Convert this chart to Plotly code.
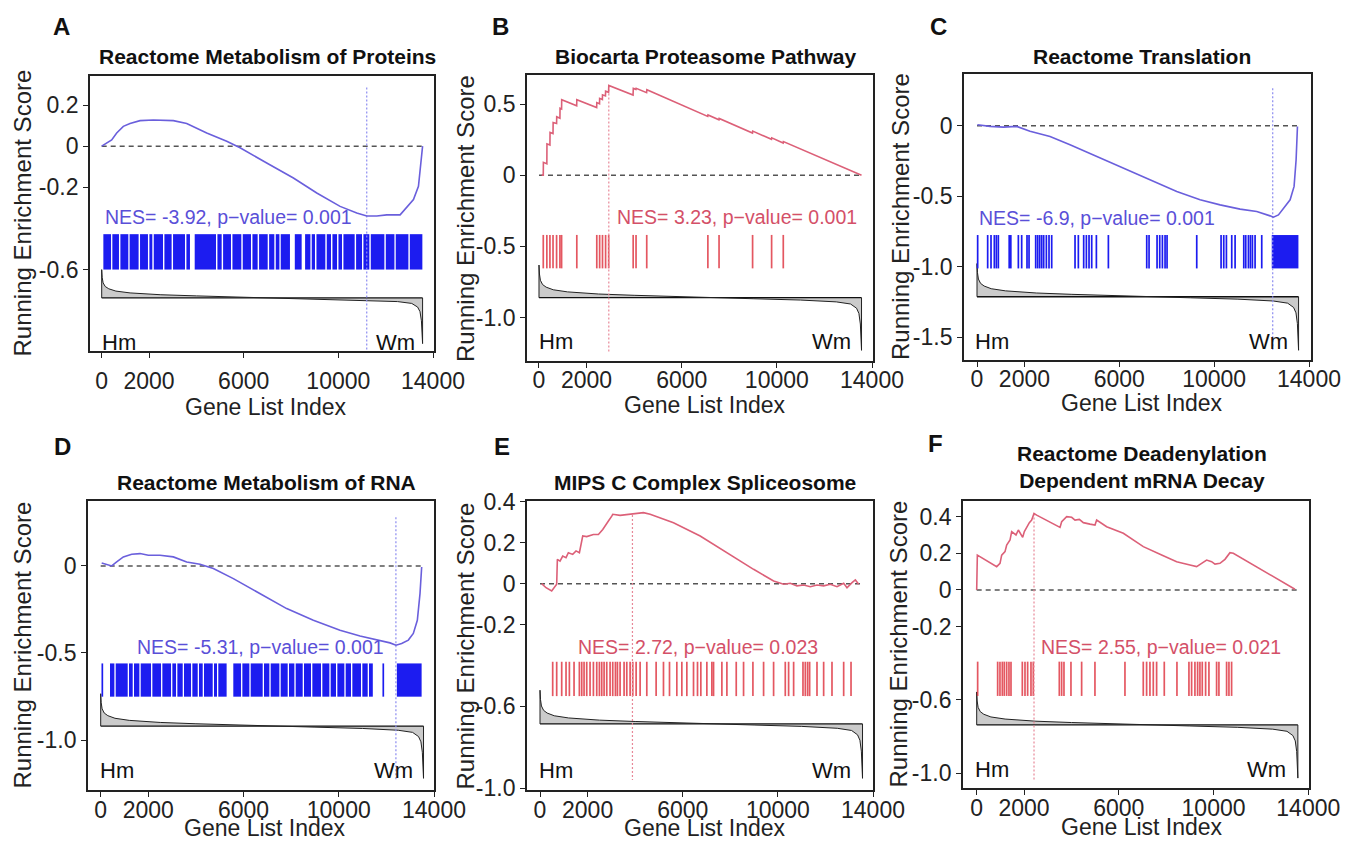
import plotly.graph_objects as go

# page body has an 8px margin; size the figure so the page fits the 1361x850 window
OFF = 8
W, H = 1345, 834
FONT = "Liberation Sans, Arial, Helvetica, sans-serif"

# ---------------- data ----------------
LETTERS = ["A", "B", "C", "D", "E", "F"]
TITLES = ["Reactome Metabolism of Proteins", "Biocarta Proteasome Pathway",
          "Reactome Translation", "Reactome Metabolism of RNA",
          "MIPS C Complex Spliceosome",
          "Reactome Deadenylation<br>Dependent mRNA Decay"]
NES = ["-3.92", "3.23", "-6.9", "-5.31", "2.72", "2.55"]
PVALUE = ["0.001", "0.001", "0.001", "0.001", "0.023", "0.021"]
X_TICKS = [0, 2000, 6000, 10000, 14000]
Y_TICKS = [[0.2, 0, -0.2, -0.6, -1.0], [0.5, 0, -0.5, -1.0], [0, -0.5, -1.0, -1.5],
           [0, -0.5, -1.0], [0.4, 0.2, 0, -0.2, -0.6, -1.0], [0.4, 0.2, 0, -0.2, -0.6, -1.0]]
N_GENES = 13560

# peak (leading edge) position and dotted line extent
PEAK_IDX = [11200, 2935, 12470, 12400, 3886, 2420]
PEAK_TOP = [0.285, 0.63, 0.265, 0.28, 0.335, 0.417]
PEAK_BOTTOM = [-1.0, -1.25, -1.59, -1.23, -0.96, -1.035]

# ranked list metric (shared shape), scaled per panel
METRIC_IDX = [0, 0, 20, 60, 150, 300, 600, 1200, 2500, 4000, 6000, 7000, 9000, 11000,
              12500, 13100, 13350, 13450, 13510, 13560, 13560]
METRIC_VAL = [0.0, 0.62, 0.45, 0.33, 0.25, 0.2, 0.15, 0.11, 0.07, 0.045, 0.015, 0.0,
              -0.02, -0.045, -0.08, -0.12, -0.2, -0.3, -0.5, -1.0, 0.0]
METRIC_BASE = [-0.738, -0.861, -1.214, -0.92, -0.686, -0.736]
METRIC_SCALE = [0.222, 0.37, 0.38, 0.30, 0.266, 0.29]

# rug extents (in score units)
RUG_TOP = [-0.428, -0.42, -0.776, -0.56, -0.382, -0.391]
RUG_BOTTOM = [-0.60, -0.655, -1.013, -0.751, -0.55, -0.578]

# running enrichment score curves
A_IDX = [0, 211, 422, 634, 915, 1197, 1620, 2183, 3029, 3592, 4438, 5283, 5847, 6974, 8101,
         9088, 10074, 10778, 11201, 11624, 12046, 12610, 12821, 13174, 13385, 13484, 13560]
A_ES = [0, 0.016, 0.03, 0.064, 0.096, 0.11, 0.124, 0.127, 0.124, 0.11, 0.064, 0.024, -0.008,
        -0.082, -0.155, -0.228, -0.293, -0.325, -0.34, -0.34, -0.334, -0.334, -0.307, -0.26,
        -0.195, -0.098, 0]
B_IDX = [111, 180, 185, 330, 335, 460, 465, 590, 595, 740, 745, 880, 885, 950, 955, 1585, 1590,
         2425, 2430, 2545, 2550, 2665, 2670, 2795, 2800, 2925, 2935, 3955, 3965, 4075, 4085,
         4525, 4535, 7095, 7105, 7565, 7575, 8975, 8985, 9775, 9785, 10265, 10275, 13560]
B_ES = [0, 0, 0.09, 0.08, 0.22, 0.212, 0.30, 0.292, 0.37, 0.363, 0.41, 0.40, 0.47, 0.465, 0.53,
        0.488, 0.53, 0.475, 0.51, 0.502, 0.54, 0.532, 0.565, 0.557, 0.59, 0.582, 0.63, 0.563,
        0.61, 0.603, 0.61, 0.58, 0.60, 0.413, 0.423, 0.389, 0.399, 0.296, 0.31, 0.252, 0.262,
        0.226, 0.236, 0.0]
C_IDX = [15, 549, 1111, 1674, 2236, 3080, 3923, 5048, 6173, 7298, 8423, 9407, 10251, 11094,
         11797, 12360, 12500, 12711, 12922, 13203, 13371, 13456, 13513]
C_ES = [0.007, -0.005, -0.01, -0.005, -0.04, -0.076, -0.135, -0.218, -0.30, -0.384, -0.467,
        -0.526, -0.562, -0.592, -0.609, -0.64, -0.649, -0.633, -0.585, -0.526, -0.431, -0.242,
        -0.005]
D_IDX = [42, 252, 462, 672, 952, 1302, 1652, 2002, 2492, 3052, 3612, 4172, 4732, 5572, 6692,
         7812, 8932, 10052, 10892, 11592, 12152, 12404, 12642, 12922, 13132, 13300, 13412, 13482]
D_ES = [0.017, 0.01, 0, 0.023, 0.052, 0.067, 0.071, 0.061, 0.061, 0.052, 0.023, 0.01, -0.015,
        -0.073, -0.159, -0.245, -0.312, -0.369, -0.403, -0.426, -0.442, -0.455, -0.446, -0.426,
        -0.388, -0.312, -0.159, -0.006]
E_IDX = [70, 253, 491, 631, 701, 730, 842, 954, 1094, 1192, 1375, 1515, 1656, 1796, 1964, 2245,
         2455, 2638, 2806, 2876, 3016, 3059, 3367, 3858, 4069, 4349, 4630, 5612, 6734, 7857,
         8979, 9821, 10242, 10523, 10803, 11084, 11365, 11645, 11926, 12206, 12487, 12767,
         12907, 13118, 13258, 13399]
E_ES = [0, -0.02, -0.036, -0.011, -0.003, 0.119, 0.11, 0.135, 0.127, 0.151, 0.143, 0.16, 0.151,
        0.233, 0.23, 0.24, 0.24, 0.265, 0.29, 0.306, 0.33, 0.339, 0.334, 0.339, 0.344, 0.347,
        0.339, 0.298, 0.233, 0.151, 0.07, 0.013, -0.003, 0.002, -0.011, -0.007, -0.015, -0.007,
        -0.011, -0.003, -0.015, 0.002, -0.02, 0.005, 0.018, -0.003]
F_IDX = [0, 28, 844, 985, 1055, 1196, 1266, 1407, 1477, 1660, 1759, 1942, 2012, 2110, 2223,
         2321, 2420, 2533, 3518, 3588, 3686, 3799, 4010, 4151, 4334, 4503, 4784, 4995, 5065,
         5487, 6191, 7035, 7809, 8442, 9004, 9286, 9497, 9708, 9919, 10060, 10271, 10482, 10693,
         10834, 13437]
F_ES = [0, 0.19, 0.127, 0.145, 0.19, 0.209, 0.245, 0.272, 0.318, 0.30, 0.327, 0.287, 0.318,
        0.345, 0.367, 0.381, 0.417, 0.408, 0.341, 0.372, 0.385, 0.40, 0.396, 0.381, 0.385, 0.367,
        0.359, 0.354, 0.381, 0.345, 0.309, 0.236, 0.19, 0.154, 0.136, 0.127, 0.145, 0.163, 0.154,
        0.141, 0.145, 0.167, 0.203, 0.20, 0.004]

# gene-set hits: dense runs (start, end) and single hits
A_RUN_START = [70, 450, 790, 1180, 1620, 2015, 2200, 2650, 3015, 3580, 3930, 4890, 5130, 5525,
               5960, 6370, 6650, 7075, 7355, 7565, 8160, 8595, 8875, 9075, 9510, 9750, 10005,
               10215, 10750, 11060, 11370, 12005, 12425, 13020]
A_RUN_END = [395, 730, 1125, 1560, 1955, 2140, 2590, 2955, 3520, 3730, 4830, 5070, 5465, 5900,
             6310, 6590, 7015, 7295, 7510, 7955, 8450, 8820, 9015, 9450, 9690, 9945, 10155,
             10690, 11000, 11310, 11945, 12370, 12960, 13550]
A_HITS = []
B_RUN_START, B_RUN_END = [], []
B_HITS = [180, 330, 460, 590, 740, 880, 950, 1590, 2430, 2550, 2670, 2800, 2930, 3960, 4080,
          4530, 7100, 7570, 8980, 9780, 10270]
C_RUN_START = [1322, 12429]
C_RUN_END = [1462, 13554]
C_HITS = [28, 450, 591, 731, 816, 900, 1744, 1884, 2109, 2194, 2475, 2559, 2643, 2728, 2812,
          2925, 3037, 3150, 4134, 4274, 4499, 4612, 4724, 4837, 5034, 5540, 7157, 7255, 7593,
          7705, 7818, 7930, 8014, 9266, 10292, 10405, 10517, 10742, 10883, 11249, 11333, 11445,
          11530, 11614, 11726, 12007]
D_RUN_START = [390, 630, 1190, 1400, 1680, 2170, 2590, 3010, 3220, 3500, 3850, 4130, 4340, 4760,
               4940, 5570, 5950, 6300, 6860, 7140, 7560, 7910, 8190, 8540, 8890, 9310, 9660,
               9940, 10290, 10570, 10990, 11270, 12440]
D_RUN_END = [575, 1135, 1345, 1625, 2115, 2535, 2955, 3165, 3445, 3795, 4075, 4285, 4705, 4885,
             5290, 5895, 6245, 6805, 7085, 7505, 7855, 8135, 8485, 8835, 9255, 9605, 9885,
             10235, 10515, 10935, 11215, 11430, 13480]
D_HITS = [69, 11870]
E_RUN_START, E_RUN_END = [], []
E_HITS = [533, 701, 912, 1094, 1235, 1431, 1655, 1754, 1852, 1964, 2104, 2245, 2385, 2497, 2595,
          2694, 2806, 2946, 3058, 3171, 3255, 3367, 3535, 3648, 3788, 3900, 4041, 4209, 4490,
          4882, 5191, 5444, 5752, 5963, 6173, 6454, 6622, 6762, 7015, 7225, 7296, 7646, 7857,
          8250, 8558, 8951, 9400, 9821, 10312, 10452, 10663, 11056, 11154, 11252, 11336, 11645,
          11925, 12276, 12767, 13076]
F_RUN_START, F_RUN_END = [], []
F_HITS = [41, 885, 983, 1082, 1166, 1265, 1363, 1448, 1926, 2039, 2151, 2292, 2390, 3488, 3586,
          3685, 3980, 4431, 4993, 6260, 7033, 7174, 7315, 7456, 7596, 7920, 8455, 8961, 9074,
          9214, 9327, 9425, 9524, 9665, 9805, 10129, 10227, 10551, 10650, 10762]

# NES label anchor (left edge) in data coords
NES_X = [70, 3193, 0, 1442, 1515, 2645]
NES_Y = [-0.344, -0.292, -0.658, -0.465, -0.309, -0.309]

# ---------------- layout / style (window pixel positions) ----------------
BOX = [(90, 434, 76, 351), (527, 873, 75, 361), (964, 1311, 74, 360),
       (88, 434, 501, 790), (527, 873, 501, 790), (963, 1309, 501, 788)]
YRANGE = [(-0.996, 0.341), (-1.306, 0.704), (-1.663, 0.367),
          (-1.287, 0.373), (-1.009, 0.404), (-1.08, 0.485)]
XRANGE = [(-494, 14042), (-504, 14042), (-548, 14084), (-533, 14000), (-547, 14000), (-578, 14030)]
XLABEL_STANDOFF = [3, -8, -8, -7, -7, -7]
TITLE_POS = [(267, 57), (705, 57), (1142, 57), (266, 482), (705, 482), (1142, 467)]
LETTER_POS = [(61, 27), (500, 27), (938, 27), (62, 447), (502, 447), (936, 443)]
YTITLE_X = [22, 465, 900, 22, 465, 898]
XTITLE_POS = [(266, 407), (705, 405), (1142, 403), (265, 828), (705, 828), (1142, 827)]
HM_POS = [(0.029, 0.03), (0.028, 0.067), (0.026, 0.064), (0.03, 0.069), (0.028, 0.069), (0.03, 0.063)]
WM_POS = [(0.95, 0.03), (0.942, 0.067), (0.94, 0.064), (0.945, 0.069), (0.943, 0.069), (0.94, 0.063)]

BLUE = dict(curve="#6a5fdc", text="#5a4fd8", bar="#1c1cf0", vline="#8c8cf0")
RED = dict(curve="#dc6078", text="#d45068", bar="rgba(222,50,62,0.82)", vline="#e88898")
COLORS = [BLUE, RED, BLUE, BLUE, RED, RED]

CURVES = [(A_IDX, A_ES), (B_IDX, B_ES), (C_IDX, C_ES), (D_IDX, D_ES), (E_IDX, E_ES), (F_IDX, F_ES)]
RUNS = [(A_RUN_START, A_RUN_END), (B_RUN_START, B_RUN_END), (C_RUN_START, C_RUN_END),
        (D_RUN_START, D_RUN_END), (E_RUN_START, E_RUN_END), (F_RUN_START, F_RUN_END)]
HITS = [A_HITS, B_HITS, C_HITS, D_HITS, E_HITS, F_HITS]


def px(x):
    return (x - OFF) / W


def py(y):
    return 1 - (y - OFF) / H


def tick_text(v):
    return "0" if v == 0 else f"{v:.1f}"


fig = go.Figure()
annotations = []
layout_axes = {}

for i in range(6):
    n = i + 1
    xa = "x" if n == 1 else f"x{n}"
    ya = "y" if n == 1 else f"y{n}"
    xkey = "xaxis" if n == 1 else f"xaxis{n}"
    ykey = "yaxis" if n == 1 else f"yaxis{n}"
    col = COLORS[i]
    l, r, t, b = BOX[i]

    # ranked list metric: baseline + filled curve
    base = METRIC_BASE[i]
    sc = METRIC_SCALE[i]
    fig.add_trace(go.Scatter(x=[0, N_GENES], y=[base, base], mode="lines",
                             line=dict(color="#111111", width=1.3), xaxis=xa, yaxis=ya,
                             showlegend=False, hoverinfo="skip"))
    fig.add_trace(go.Scatter(x=METRIC_IDX, y=[base + sc * v for v in METRIC_VAL], mode="lines",
                             line=dict(color="#222222", width=1.0), fill="tonexty",
                             fillcolor="rgba(160,160,160,0.55)", xaxis=xa, yaxis=ya,
                             showlegend=False, hoverinfo="skip"))

    # zero dashed line
    fig.add_trace(go.Scatter(x=[0, N_GENES], y=[0, 0], mode="lines",
                             line=dict(color="#555555", width=1.5, dash="5px,4px"),
                             xaxis=xa, yaxis=ya, showlegend=False, hoverinfo="skip"))

    # rug: dense runs
    rs, re_ = RUNS[i]
    lo, hi = RUG_BOTTOM[i], RUG_TOP[i]
    if rs:
        fig.add_trace(go.Bar(x=[(s + e) / 2 for s, e in zip(rs, re_)],
                             y=[hi - lo] * len(rs), base=[lo] * len(rs),
                             width=[e - s for s, e in zip(rs, re_)],
                             marker=dict(color=col["bar"], line=dict(width=0)),
                             xaxis=xa, yaxis=ya, showlegend=False, hoverinfo="skip"))
    # rug: single hits
    hx, hy = [], []
    for h in HITS[i]:
        hx += [h, h, None]
        hy += [lo, hi, None]
    if hx:
        fig.add_trace(go.Scatter(x=hx, y=hy, mode="lines",
                                 line=dict(color=col["bar"], width=1.7),
                                 xaxis=xa, yaxis=ya, showlegend=False, hoverinfo="skip"))

    # peak dotted line
    fig.add_trace(go.Scatter(x=[PEAK_IDX[i], PEAK_IDX[i]], y=[PEAK_TOP[i], PEAK_BOTTOM[i]],
                             mode="lines", line=dict(color=col["vline"], width=1.2, dash="2px,2px"),
                             xaxis=xa, yaxis=ya, showlegend=False, hoverinfo="skip"))

    # running enrichment score
    cx, cy = CURVES[i]
    fig.add_trace(go.Scatter(x=cx, y=cy, mode="lines",
                             line=dict(color=col["curve"], width=1.6),
                             xaxis=xa, yaxis=ya, showlegend=False, hoverinfo="skip"))

    axis_common = dict(showgrid=False, zeroline=False, showline=True, mirror=True,
                       automargin=False,
                       linecolor="#222222", linewidth=1.8, ticks="outside", ticklen=5,
                       tickwidth=1.3, tickcolor="#222222",
                       tickfont=dict(family=FONT, size=23, color="#222222"))
    layout_axes[xkey] = dict(domain=[px(l), px(r)], range=list(XRANGE[i]), anchor=ya,
                             tickvals=X_TICKS, ticktext=[str(v) for v in X_TICKS],
                             ticklabelstandoff=XLABEL_STANDOFF[i], **axis_common)
    layout_axes[ykey] = dict(domain=[py(b), py(t)], range=list(YRANGE[i]), anchor=xa,
                             tickvals=Y_TICKS[i], ticktext=[tick_text(v) for v in Y_TICKS[i]],
                             **axis_common)

    # NES text
    annotations.append(dict(x=NES_X[i], y=NES_Y[i], xref=xa, yref=ya, xanchor="left",
                            yanchor="middle", showarrow=False,
                            text=f"NES= {NES[i]}, p\u2212value= {PVALUE[i]}",
                            font=dict(family=FONT, size=19.5, color=col["text"])))
    # Hm / Wm
    annotations.append(dict(x=HM_POS[i][0], y=HM_POS[i][1], xref=f"{xa} domain", yref=f"{ya} domain",
                            xanchor="left", yanchor="middle", showarrow=False, text="Hm",
                            font=dict(family=FONT, size=22, color="#111111")))
    annotations.append(dict(x=WM_POS[i][0], y=WM_POS[i][1], xref=f"{xa} domain", yref=f"{ya} domain",
                            xanchor="right", yanchor="middle", showarrow=False, text="Wm",
                            font=dict(family=FONT, size=22, color="#111111")))
    # title
    annotations.append(dict(x=px(TITLE_POS[i][0]), y=py(TITLE_POS[i][1]), xref="paper", yref="paper",
                            xanchor="center", yanchor="middle", showarrow=False,
                            text=f"<b>{TITLES[i]}</b>",
                            font=dict(family=FONT, size=21, color="#111111")))
    # panel letter
    annotations.append(dict(x=px(LETTER_POS[i][0]), y=py(LETTER_POS[i][1]), xref="paper", yref="paper",
                            xanchor="center", yanchor="middle", showarrow=False,
                            text=f"<b>{LETTERS[i]}</b>",
                            font=dict(family=FONT, size=24, color="#111111")))
    # axis titles
    annotations.append(dict(x=px(YTITLE_X[i]), y=py((t + b) / 2), xref="paper", yref="paper",
                            xanchor="center", yanchor="middle", showarrow=False, textangle=-90,
                            text="Running Enrichment Score",
                            font=dict(family=FONT, size=24, color="#222222")))
    annotations.append(dict(x=px(XTITLE_POS[i][0]), y=py(XTITLE_POS[i][1]), xref="paper", yref="paper",
                            xanchor="center", yanchor="middle", showarrow=False,
                            text="Gene List Index",
                            font=dict(family=FONT, size=23, color="#222222")))

fig.update_layout(width=W, height=H, margin=dict(l=0, r=0, t=0, b=0),
                  paper_bgcolor="white", plot_bgcolor="white", barmode="overlay",
                  annotations=annotations, showlegend=False, **layout_axes)

fig.write_html("out.html")
